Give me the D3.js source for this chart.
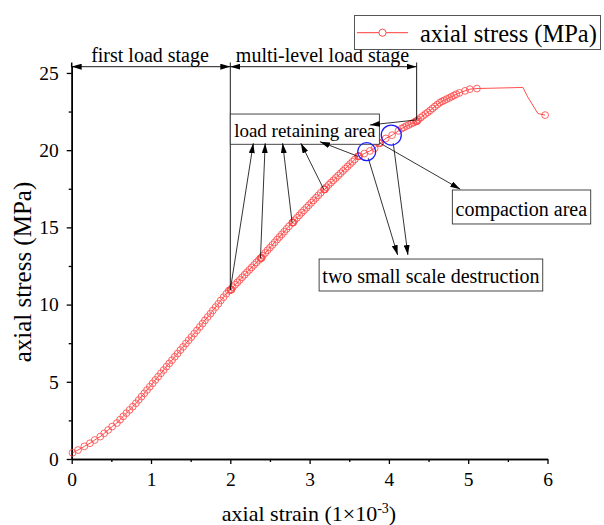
<!DOCTYPE html>
<html>
<head>
<meta charset="utf-8">
<script src="https://cdn.jsdelivr.net/npm/d3@7"></script>
<style>
  body { margin: 0; background: #fff; }
  text { font-family: "Liberation Serif", "Times New Roman", serif; fill: #000; }
</style>
</head>
<body>
<div id="chart"></div>
<script>
// data (strain in 1e-3, stress in MPa)
var strain = [
  0.01, 0.08, 0.16, 0.23, 0.29, 0.36, 0.41, 0.46, 0.51, 0.57,
  0.61, 0.65, 0.69, 0.73, 0.77, 0.81, 0.845, 0.88, 0.915, 0.95,
  0.985, 1.02, 1.055, 1.09, 1.125, 1.16, 1.195, 1.23, 1.265, 1.30,
  1.335, 1.37, 1.405, 1.44, 1.475, 1.51, 1.545, 1.58, 1.615, 1.65,
  1.68, 1.715, 1.75, 1.78, 1.815, 1.85, 1.88, 1.915, 1.95, 1.98,
  2.00, 2.005, 2.01, 2.015,
  2.03, 2.06, 2.09, 2.12, 2.15, 2.18, 2.21, 2.24, 2.27, 2.30, 2.33, 2.36,
  2.38, 2.385, 2.39, 2.395,
  2.41, 2.44, 2.47, 2.50, 2.53, 2.56, 2.59, 2.62, 2.65, 2.68, 2.71, 2.74,
  2.78, 2.785, 2.79, 2.795,
  2.81, 2.84, 2.87, 2.90, 2.93, 2.96, 2.99, 3.02, 3.05, 3.08, 3.11, 3.14,
  3.18, 3.185, 3.19, 3.195,
  3.21, 3.24, 3.27, 3.30, 3.33, 3.36, 3.39, 3.42, 3.45, 3.48, 3.51, 3.54, 3.57,
  3.61, 3.615, 3.62, 3.625,
  3.69, 3.76, 3.82,
  3.88, 3.885, 3.89,
  3.96, 4.04, 4.12,
  4.16, 4.19, 4.22, 4.25, 4.28, 4.31,
  4.34, 4.345, 4.35, 4.355,
  4.37, 4.40, 4.43, 4.46, 4.49, 4.52, 4.55, 4.58, 4.61, 4.64, 4.67,
  4.70, 4.73, 4.76, 4.79, 4.82, 4.85, 4.89, 4.96, 5.02, 5.11
];
var stress = [
  0.40, 0.58, 0.82, 1.02, 1.23, 1.45, 1.66, 1.88, 2.10, 2.33,
  2.55, 2.76, 2.97, 3.18, 3.39, 3.61, 3.82, 4.04, 4.25, 4.47,
  4.68, 4.90, 5.12, 5.33, 5.55, 5.76, 5.98, 6.19, 6.40, 6.62,
  6.83, 7.05, 7.26, 7.48, 7.69, 7.90, 8.12, 8.33, 8.55, 8.77,
  8.98, 9.20, 9.41, 9.62, 9.84, 10.05, 10.27, 10.48, 10.70, 10.90,
  10.95, 10.96, 10.96, 10.97,
  11.12, 11.28, 11.44, 11.60, 11.77, 11.93, 12.09, 12.25, 12.41, 12.57, 12.73, 12.89,
  13.00, 13.01, 13.01, 13.02,
  13.17, 13.34, 13.52, 13.69, 13.86, 14.03, 14.21, 14.38, 14.55, 14.72, 14.90, 15.07,
  15.30, 15.31, 15.31, 15.32,
  15.46, 15.62, 15.78, 15.95, 16.11, 16.27, 16.43, 16.59, 16.75, 16.91, 17.07, 17.24,
  17.45, 17.46, 17.46, 17.47,
  17.60, 17.75, 17.90, 18.05, 18.20, 18.35, 18.50, 18.65, 18.80, 18.95, 19.10, 19.25, 19.40,
  19.60, 19.61, 19.61, 19.62,
  19.78, 19.95, 20.12,
  20.45, 20.46, 20.46,
  20.76, 20.97, 21.25,
  21.40, 21.48, 21.56, 21.63, 21.71, 21.78,
  21.86, 21.87, 21.88, 21.89,
  21.97, 22.10, 22.22, 22.34, 22.45, 22.57, 22.70, 22.83, 22.95, 23.07, 23.16,
  23.23, 23.31, 23.38, 23.46, 23.54, 23.62, 23.71, 23.84, 23.95, 23.99
];
// tail drawn as line only, then one last marker
var tailStrain = [5.69, 5.75, 5.88];
var tailStress = [24.06, 23.45, 22.37];
var endStrain = [5.97];
var endStress = [22.27];

var xTicks = [0, 1, 2, 3, 4, 5, 6];
var yTicks = [0, 5, 10, 15, 20, 25];
var xMinor = [0.5, 1.5, 2.5, 3.5, 4.5, 5.5];
var yMinor = [2.5, 7.5, 12.5, 17.5, 22.5];

var seriesName = "axial stress (MPa)";
var stageLabels = ["first load stage", "multi-level load stage"];
var stageBounds = [0, 2.0, 4.35];

var width = 604, height = 525;

var svg = d3.select("#chart").append("svg")
    .attr("width", width)
    .attr("height", height);

var x = d3.scaleLinear().domain([0, 6]).range([71.7, 547.5]);
var y = d3.scaleLinear().domain([0, 25.45]).range([459, 66]);

var defs = svg.append("defs");
defs.append("marker")
    .attr("id", "arr")
    .attr("viewBox", "0 0 10 6")
    .attr("refX", 10).attr("refY", 3)
    .attr("markerWidth", 10).attr("markerHeight", 6)
    .attr("markerUnits", "userSpaceOnUse")
    .attr("orient", "auto-start-reverse")
    .append("path").attr("d", "M0,0L10,3L0,6Z").attr("fill", "#000");

// axes
svg.append("g").attr("transform", "translate(0,459)")
    .call(d3.axisBottom(x).tickValues(xTicks).tickSize(5).tickSizeOuter(0).tickPadding(8).tickFormat(d3.format("d")));
svg.append("g").attr("transform", "translate(0,459)")
    .call(d3.axisBottom(x).tickValues(xMinor).tickSize(3).tickSizeOuter(0).tickFormat(""));
svg.append("g").attr("transform", "translate(71.7,0)")
    .call(d3.axisLeft(y).tickValues(yTicks).tickSize(5).tickSizeOuter(0).tickPadding(8).tickFormat(d3.format("d")));
svg.append("g").attr("transform", "translate(71.7,0)")
    .call(d3.axisLeft(y).tickValues(yMinor).tickSize(3).tickSizeOuter(0).tickFormat(""));

svg.selectAll(".domain").attr("stroke", "#000").attr("stroke-width", 1.5);
svg.selectAll(".tick line").attr("stroke", "#000").attr("stroke-width", 1.3);
svg.selectAll(".tick text").style("font-family", "Liberation Serif").style("font-size", "19.5px").attr("fill", "#000");

// axis titles
var xt = svg.append("text")
    .attr("x", 309).attr("y", 521)
    .attr("text-anchor", "middle")
    .style("font-size", "22px");
xt.append("tspan").text("axial strain (1\u00d710");
xt.append("tspan").attr("dy", -8).style("font-size", "14px").text("-3");
xt.append("tspan").attr("dy", 8).text(")");

svg.append("text")
    .attr("transform", "translate(31,272) rotate(-90)")
    .attr("text-anchor", "middle")
    .style("font-size", "25px")
    .text("axial stress (MPa)");

// curve
var pts = strain.map(function(d, i) { return [d, stress[i]]; });
var tail = tailStrain.map(function(d, i) { return [d, tailStress[i]]; });
var ends = endStrain.map(function(d, i) { return [d, endStress[i]]; });
var all = pts.concat(tail, ends);

var line = d3.line().x(function(d) { return x(d[0]); }).y(function(d) { return y(d[1]); });
svg.append("path").datum(all)
    .attr("d", line)
    .attr("fill", "none")
    .attr("stroke", "#ff3b3b")
    .attr("stroke-width", 0.9);

svg.append("g").selectAll("circle")
    .data(pts.concat(ends))
    .enter().append("circle")
    .attr("cx", function(d) { return x(d[0]); })
    .attr("cy", function(d) { return y(d[1]); })
    .attr("r", 3.4)
    .attr("fill", "none")
    .attr("stroke", "#ff4a4a")
    .attr("stroke-width", 0.85);

// stage arrows on top
stageLabels.forEach(function(lab, i) {
    svg.append("line")
        .attr("x1", x(stageBounds[i])).attr("x2", x(stageBounds[i + 1]))
        .attr("y1", 66.7).attr("y2", 66.7)
        .attr("stroke", "#000").attr("stroke-width", 0.9)
        .attr("marker-start", "url(#arr)").attr("marker-end", "url(#arr)");
    svg.append("text")
        .attr("x", (x(stageBounds[i]) + x(stageBounds[i + 1])) / 2 - 1)
        .attr("y", 62)
        .attr("text-anchor", "middle")
        .style("font-size", "20px")
        .text(lab);
});
svg.append("line").attr("x1", x(0)).attr("x2", x(0)).attr("y1", 62.5).attr("y2", 67)
    .attr("stroke", "#000").attr("stroke-width", 1.5);
svg.append("line").attr("x1", x(2.0)).attr("x2", x(2.0)).attr("y1", 62.5).attr("y2", y(10.95))
    .attr("stroke", "#000").attr("stroke-width", 0.9);
svg.append("line").attr("x1", x(4.35)).attr("x2", x(4.35)).attr("y1", 62.5).attr("y2", y(21.96))
    .attr("stroke", "#000").attr("stroke-width", 0.9);

// label boxes
function box(x0, x1, y0, y1, label, tx, ty, fs) {
    svg.append("rect")
        .attr("x", x(x0)).attr("y", y(y1))
        .attr("width", x(x1) - x(x0)).attr("height", y(y0) - y(y1))
        .attr("fill", "#fff").attr("stroke", "#333").attr("stroke-width", 0.9);
    svg.append("text").attr("x", x(tx)).attr("y", y(ty))
        .attr("text-anchor", "middle")
        .style("font-size", fs + "px").text(label);
}
function arrow(a, b) {
    svg.append("line")
        .attr("x1", x(a[0])).attr("y1", y(a[1]))
        .attr("x2", x(b[0])).attr("y2", y(b[1]))
        .attr("stroke", "#000").attr("stroke-width", 0.8)
        .attr("marker-end", "url(#arr)");
}

box(2.0, 3.88, 20.38, 22.34, "load retaining area", 2.94, 20.85, 19);
box(4.80, 6.545, 15.22, 17.42, "compaction area", 5.67, 15.75, 20);
box(3.12, 5.94, 10.88, 12.95, "two small scale destruction", 4.53, 11.42, 20);

var retainFrom = [[2.0, 10.95], [2.38, 13.0], [2.78, 15.3], [3.18, 17.45], [3.61, 19.6], [4.35, 21.96]];
var retainTo = [[2.29, 20.45], [2.44, 20.45], [2.66, 20.45], [2.89, 20.45], [3.13, 20.55], [3.76, 21.63]];
retainFrom.forEach(function(p, i) { arrow(p, retainTo[i]); });

arrow([3.89, 20.45], [4.90, 17.47]);
arrow([3.74, 19.48], [4.11, 13.21]);
arrow([4.055, 20.45], [4.24, 13.21]);

// blue circles
var blueAt = [[3.72, 19.9, 9], [4.03, 20.98, 10]];
svg.append("g").selectAll("circle").data(blueAt).enter().append("circle")
    .attr("cx", function(d) { return x(d[0]); })
    .attr("cy", function(d) { return y(d[1]); })
    .attr("r", function(d) { return d[2]; })
    .attr("fill", "none").attr("stroke", "#1a1aff").attr("stroke-width", 1.3);

// legend
var lg = svg.append("g");
lg.append("rect").attr("x", 354.5).attr("y", 15.5).attr("width", 246).attr("height", 34)
    .attr("fill", "#fff").attr("stroke", "#555").attr("stroke-width", 1);
lg.append("line").attr("x1", 357).attr("x2", 408).attr("y1", 32.7).attr("y2", 32.7)
    .attr("stroke", "#ff3b3b").attr("stroke-width", 1);
lg.append("circle").attr("cx", 382.5).attr("cy", 32.7).attr("r", 3.6)
    .attr("fill", "#fff").attr("stroke", "#ff4a4a").attr("stroke-width", 1);
lg.append("text").attr("x", 420).attr("y", 42).style("font-size", "24.5px").text(seriesName);
</script>
</body>
</html>
